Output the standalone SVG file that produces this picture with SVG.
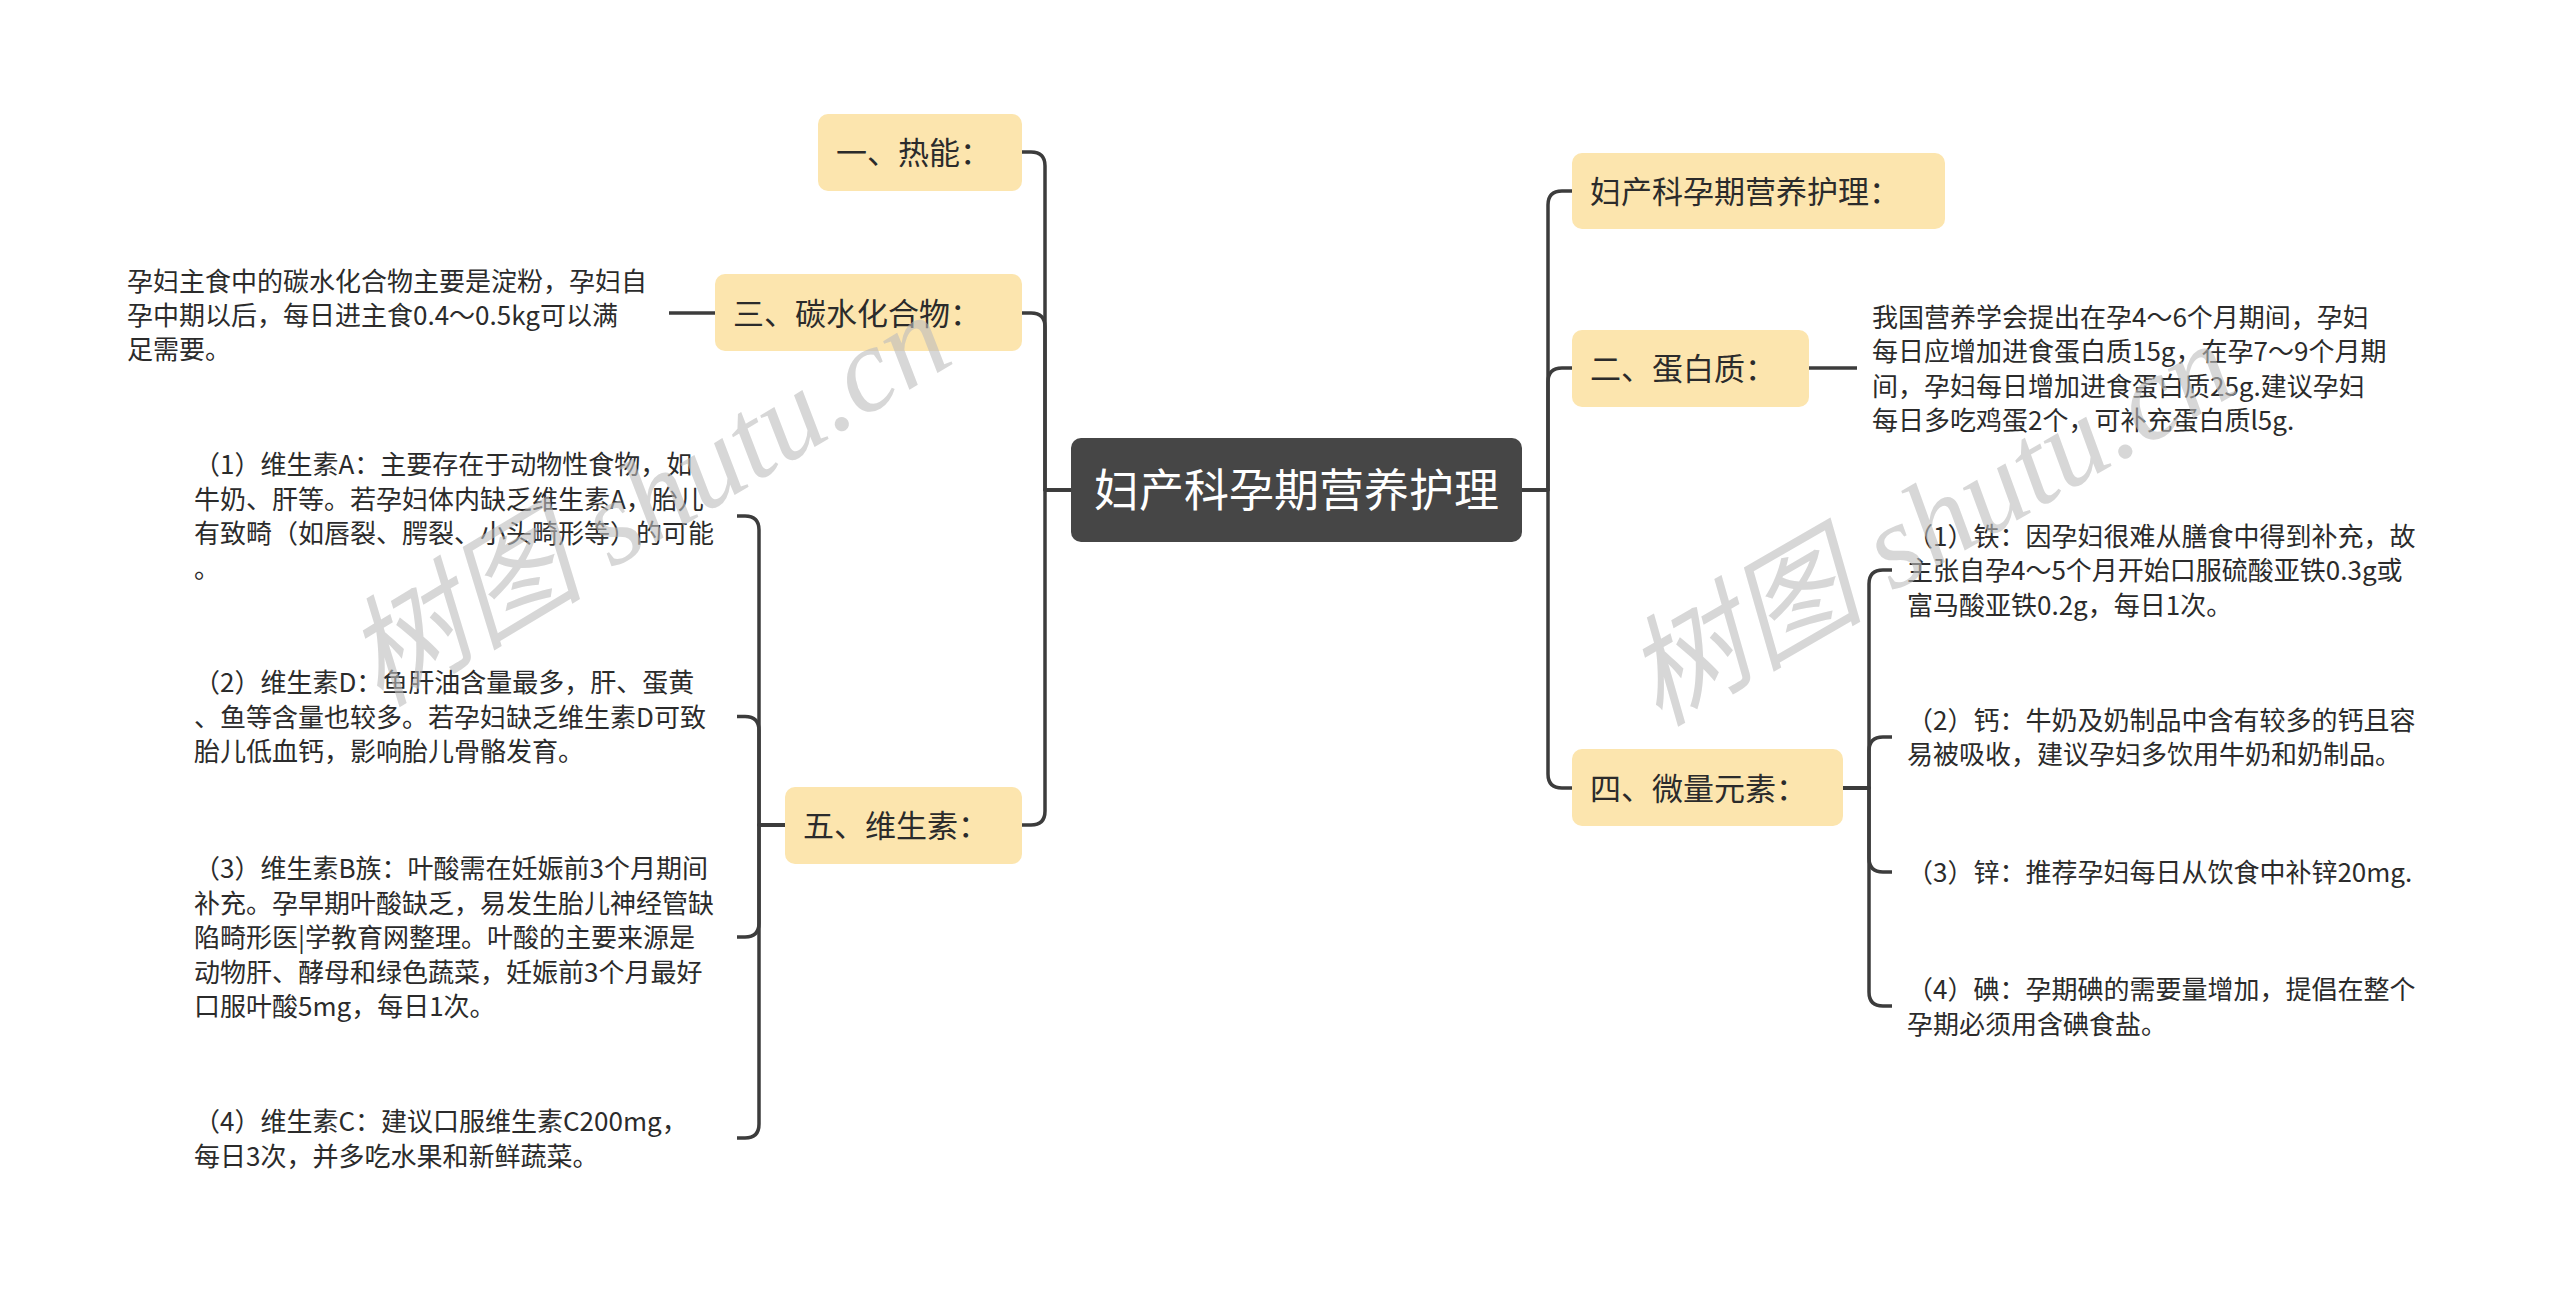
<svg xmlns="http://www.w3.org/2000/svg" width="2560" height="1297" viewBox="0 0 2560 1297">
<style>
.bg{fill:#ffffff}
.topic{fill:#fce5ae}
.root{fill:#464646}
.tt{font-family:"Noto Sans CJK SC","Noto Sans",sans-serif;font-size:31px;fill:#2b2b2b}
.rt{font-family:"Noto Sans CJK SC","Noto Sans",sans-serif;font-size:45px;fill:#ffffff}
.lf{font-family:"Noto Sans CJK SC","Noto Sans",sans-serif;font-size:26px;fill:#2b2b2b}
.cn{fill:none;stroke:#3c3c3c;stroke-width:3.5;stroke-linejoin:round;stroke-linecap:butt}
.wm{font-family:"Liberation Serif","Noto Sans CJK SC",serif;font-style:italic;font-size:120px;fill:#bdbdbd;opacity:0.6}
</style>
<rect class="bg" x="0" y="0" width="2560" height="1297"/>
<g id="connectors">
<path class="cn" d="M1071,490 H1045 V166 Q1045,152 1031,152 H1022"/>
<path class="cn" d="M1071,490 H1045 V327 Q1045,313 1031,313 H1022"/>
<path class="cn" d="M1071,490 H1045 V811 Q1045,825 1031,825 H1022"/>
<path class="cn" d="M1522,490 H1548 V205 Q1548,191 1562,191 H1572"/>
<path class="cn" d="M1522,490 H1548 V382 Q1548,368 1562,368 H1572"/>
<path class="cn" d="M1522,490 H1548 V774 Q1548,788 1562,788 H1572"/>
<path class="cn" d="M715,313 H669"/>
<path class="cn" d="M1809,368 H1857"/>
<path class="cn" d="M785,825 H759 V530 Q759,516 745,516 H737"/>
<path class="cn" d="M785,825 H759 V730.5 Q759,716.5 745,716.5 H737"/>
<path class="cn" d="M785,825 H759 V923 Q759,937 745,937 H737"/>
<path class="cn" d="M785,825 H759 V1124 Q759,1138 745,1138 H737"/>
<path class="cn" d="M1843,788 H1869 V584 Q1869,570 1883,570 H1892"/>
<path class="cn" d="M1843,788 H1869 V751 Q1869,737 1883,737 H1892"/>
<path class="cn" d="M1843,788 H1869 V858 Q1869,872 1883,872 H1892"/>
<path class="cn" d="M1843,788 H1869 V992 Q1869,1006 1883,1006 H1892"/>
</g>
<g id="root">
<rect class="root" x="1071" y="438" width="451" height="104" rx="10"/>
<text class="rt" x="1296.5" y="507" text-anchor="middle">妇产科孕期营养护理</text>
</g>
<g id="n-reneng">
<rect class="topic" x="818" y="114" width="204" height="77" rx="10"/>
<text class="tt" x="836" y="164">一、热能：</text>
</g>
<g id="n-tanshui">
<rect class="topic" x="715" y="274" width="307" height="77" rx="10"/>
<text class="tt" x="733" y="325">三、碳水化合物：</text>
</g>
<g id="n-weisheng">
<rect class="topic" x="785" y="787" width="237" height="77" rx="10"/>
<text class="tt" x="803" y="837">五、维生素：</text>
</g>
<g id="n-title">
<rect class="topic" x="1572" y="153" width="373" height="76" rx="10"/>
<text class="tt" x="1590" y="203">妇产科孕期营养护理：</text>
</g>
<g id="n-danbai">
<rect class="topic" x="1572" y="330" width="237" height="77" rx="10"/>
<text class="tt" x="1590" y="380">二、蛋白质：</text>
</g>
<g id="n-weiliang">
<rect class="topic" x="1572" y="749" width="271" height="77" rx="10"/>
<text class="tt" x="1590" y="800">四、微量元素：</text>
</g>
<g id="l-tanshui">
<text class="lf"><tspan x="127" y="291">孕妇主食中的碳水化合物主要是淀粉，孕妇自</tspan><tspan x="127" y="325">孕中期以后，每日进主食0.4～0.5kg可以满</tspan><tspan x="127" y="359">足需要。</tspan></text>
</g>
<g id="l-va">
<text class="lf"><tspan x="194" y="474">（1）维生素A：主要存在于动物性食物，如</tspan><tspan x="194" y="508.5">牛奶、肝等。若孕妇体内缺乏维生素A，胎儿</tspan><tspan x="194" y="543">有致畸（如唇裂、腭裂、小头畸形等）的可能</tspan><tspan x="194" y="577.5">。</tspan></text>
</g>
<g id="l-vd">
<text class="lf"><tspan x="194" y="692">（2）维生素D：鱼肝油含量最多，肝、蛋黄</tspan><tspan x="194" y="726.5">、鱼等含量也较多。若孕妇缺乏维生素D可致</tspan><tspan x="194" y="761">胎儿低血钙，影响胎儿骨骼发育。</tspan></text>
</g>
<g id="l-vb">
<text class="lf"><tspan x="194" y="878">（3）维生素B族：叶酸需在妊娠前3个月期间</tspan><tspan x="194" y="912.5">补充。孕早期叶酸缺乏，易发生胎儿神经管缺</tspan><tspan x="194" y="947">陷畸形医|学教育网整理。叶酸的主要来源是</tspan><tspan x="194" y="981.5">动物肝、酵母和绿色蔬菜，妊娠前3个月最好</tspan><tspan x="194" y="1016">口服叶酸5mg，每日1次。</tspan></text>
</g>
<g id="l-vc">
<text class="lf"><tspan x="194" y="1131">（4）维生素C：建议口服维生素C200mg，</tspan><tspan x="194" y="1165.5">每日3次，并多吃水果和新鲜蔬菜。</tspan></text>
</g>
<g id="l-danbai">
<text class="lf"><tspan x="1872" y="327">我国营养学会提出在孕4～6个月期间，孕妇</tspan><tspan x="1872" y="361">每日应增加进食蛋白质15g，在孕7～9个月期</tspan><tspan x="1872" y="396">间，孕妇每日增加进食蛋白质25g.建议孕妇</tspan><tspan x="1872" y="430">每日多吃鸡蛋2个，可补充蛋白质l5g.</tspan></text>
</g>
<g id="l-tie">
<text class="lf"><tspan x="1907" y="545.5">（1）铁：因孕妇很难从膳食中得到补充，故</tspan><tspan x="1907" y="580">主张自孕4～5个月开始口服硫酸亚铁0.3g或</tspan><tspan x="1907" y="614.5">富马酸亚铁0.2g，每日1次。</tspan></text>
</g>
<g id="l-gai">
<text class="lf"><tspan x="1907" y="729.5">（2）钙：牛奶及奶制品中含有较多的钙且容</tspan><tspan x="1907" y="764">易被吸收，建议孕妇多饮用牛奶和奶制品。</tspan></text>
</g>
<g id="l-xin">
<text class="lf"><tspan x="1907" y="882">（3）锌：推荐孕妇每日从饮食中补锌20mg.</tspan></text>
</g>
<g id="l-dian">
<text class="lf"><tspan x="1907" y="999">（4）碘：孕期碘的需要量增加，提倡在整个</tspan><tspan x="1907" y="1033.5">孕期必须用含碘食盐。</tspan></text>
</g>
<g id="watermarks">
<text class="wm" transform="translate(649,502) rotate(-31)" x="0" y="38" text-anchor="middle">树图 shutu.cn</text>
<text class="wm" transform="translate(1931,526) rotate(-30)" x="0" y="38" text-anchor="middle">树图 shutu.cn</text>
</g>
</svg>
